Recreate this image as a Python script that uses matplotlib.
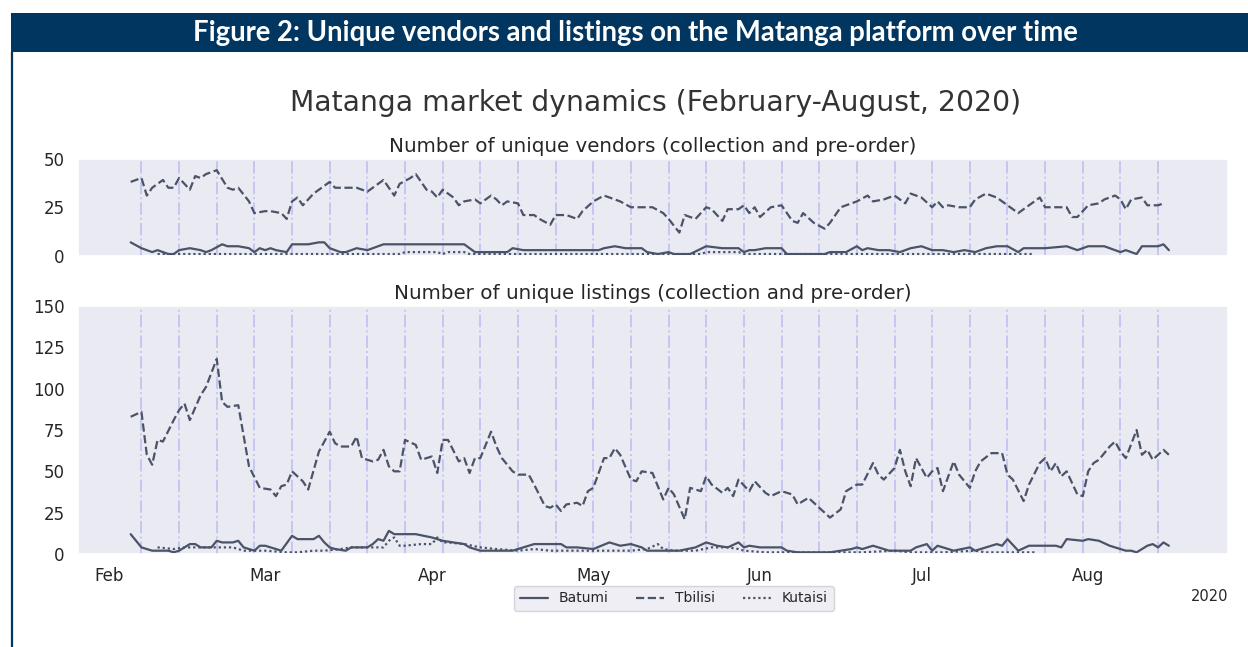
import pandas as pd
import matplotlib
matplotlib.use('Agg')
import matplotlib.pyplot as plt
import matplotlib.dates as mdates
from matplotlib.patches import Rectangle
from matplotlib.lines import Line2D
import seaborn as sns

# days are counted from 1 February 2020
START = pd.Timestamp('2020-02-01')

# --- unique vendors ---
vend_tbilisi_days = [4, 6, 7, 8, 10, 11, 12, 13, 15, 16, 17, 18, 20, 22, 23, 24, 26, 27, 29, 30, 32, 33, 34, 35, 36,
                     38, 39, 41, 42, 44, 45, 46, 48, 49, 51, 52, 53, 54, 56, 57, 59, 60, 61, 62, 64, 65, 66, 68, 69,
                     71, 72, 73, 74, 76, 77, 79, 80, 82, 83, 85, 87, 88, 90, 92, 94, 95, 97, 99, 101, 103, 104, 106,
                     107, 109, 111, 112, 114, 115, 117, 118, 119, 120, 121, 123, 125, 127, 128, 129, 131, 133, 134,
                     136, 138, 139, 141, 142, 144, 146, 148, 149, 151, 153, 154, 155, 156, 158, 160, 161, 163, 165,
                     167, 169, 171, 173, 174, 176, 178, 179, 180, 182, 184, 185, 187, 188, 189, 190, 192, 193, 195, 196]
vend_tbilisi = [38, 40, 31, 35, 39, 35, 35, 40, 34, 41, 40, 42, 44, 35, 34, 35, 28, 22, 23, 23, 22, 19, 28, 30, 26,
                32, 34, 38, 35, 35, 35, 35, 33, 35, 39, 35, 31, 37, 40, 42, 34, 33, 30, 34, 30, 26, 28, 29, 27,
                31, 29, 26, 28, 27, 21, 21, 19, 16, 21, 21, 19, 23, 28, 31, 29, 28, 25, 25, 25, 22, 19, 12,
                21, 19, 25, 24, 18, 24, 24, 26, 22, 25, 20, 25, 26, 18, 17, 22, 17, 14, 17,
                25, 27, 28, 31, 28, 29, 31, 27, 32, 30, 25, 28, 25, 26, 25, 25, 29, 32, 30,
                26, 22, 26, 30, 25, 25, 25, 20, 20, 26, 27, 29, 31, 29, 24, 29, 30, 26, 26, 27]

vend_batumi_days = [4, 6, 8, 9, 11, 12, 13, 15, 17, 18, 19, 21, 22, 24, 26, 27, 28, 29, 30, 31, 33, 34, 36, 37, 39,
                    40, 41, 43, 44, 46, 48, 51, 54, 55, 58, 59, 61, 62, 66, 67, 68, 74, 75, 77, 91, 92, 94, 96, 99,
                    100, 102, 104, 105, 108, 111, 114, 117, 118, 119, 120, 122, 125, 126, 133, 134, 137, 139, 140,
                    141, 143, 145, 147, 149, 151, 153, 155, 157, 159, 161, 163, 165, 167, 169, 170, 174, 178, 180,
                    182, 185, 186, 188, 189, 191, 192, 195, 196, 197]
vend_batumi = [7, 4, 2, 3, 1, 1, 3, 4, 3, 2, 3, 6, 5, 5, 4, 2, 4, 3, 4, 3, 2, 6, 6, 6, 7,
               7, 4, 2, 2, 4, 3, 6, 6, 6, 6, 6, 6, 6, 6, 4, 2, 2, 4, 3, 3, 4, 5, 4, 4,
               2, 1, 2, 1, 1, 5, 4, 4, 2, 3, 3, 4, 4, 1, 1, 2, 2, 5, 3,
               4, 3, 3, 2, 4, 5, 3, 3, 2, 3, 2, 4, 5, 5, 2, 4, 4, 5, 3,
               5, 5, 4, 2, 3, 1, 5, 5, 6, 3]

vend_kutaisi_days = [9, 54, 55, 61, 62, 63, 66, 67, 110, 111, 117, 118, 172]
vend_kutaisi = [1, 1, 2, 2, 1, 2, 2, 1, 1, 2, 2, 1, 1]

# --- unique listings ---
list_tbilisi_days = [4, 6, 7, 8, 9, 10, 12, 13, 14, 15, 17, 18, 20, 21, 22, 24, 26, 28, 30, 31, 32, 33, 34, 36, 37,
                     39, 41, 42, 43, 45, 46, 47, 49, 50, 51, 52, 53, 54, 55, 57, 58, 60, 61, 62, 63, 65, 66, 67, 68,
                     69, 71, 72, 73, 75, 76, 78, 79, 81, 82, 83, 84, 85, 87, 88, 89, 90, 92, 93, 94, 95, 97, 98, 99,
                     101, 103, 104, 105, 107, 108, 110, 111, 112, 114, 115, 116, 117, 119, 120, 122, 123, 125, 127,
                     128, 130, 132, 133, 134, 136, 137, 139, 140, 142, 143, 144, 146, 147, 148, 149, 150, 152, 153,
                     154, 155, 157, 158, 160, 161, 162, 164, 166, 167, 168, 170, 171, 173, 174, 175, 176, 177, 178,
                     180, 181, 182, 183, 184, 186, 187, 188, 189, 191, 192, 193, 194, 195, 196, 197]
list_tbilisi = [83, 86, 60, 54, 69, 68, 81, 87, 91, 81, 96, 101, 118, 92, 89, 90, 53, 40, 39, 35, 41, 42, 50, 44, 39,
                62, 74, 67, 65, 65, 71, 58, 56, 57, 63, 53, 50, 50, 69, 66, 57, 59, 49, 69, 69, 56, 58, 49, 58,
                58, 74, 65, 58, 50, 48, 48, 42, 29, 28, 30, 26, 30, 31, 29, 38, 40, 58, 58, 64, 60, 45, 44, 50,
                49, 33, 40, 36, 21, 40, 38, 47, 42, 37, 40, 35, 45, 38, 44, 37, 35, 38, 36,
                30, 34, 28, 25, 22, 27, 38, 42, 42, 55, 48, 45, 52, 63, 50, 41, 58, 46, 50,
                52, 38, 56, 48, 40, 50, 56, 61, 61, 48, 45, 32, 42, 55, 58, 50, 55, 47, 50,
                36, 35, 50, 55, 57, 65, 68, 62, 58, 75, 60, 63, 57, 60, 63, 60]

list_batumi_days = [4, 6, 8, 9, 11, 12, 13, 15, 16, 17, 19, 20, 21, 23, 24, 25, 27, 28, 29, 31, 32, 34, 35, 37, 38,
                    39, 40, 41, 42, 44, 45, 48, 49, 50, 51, 52, 53, 54, 56, 57, 60, 62, 64, 66, 67, 69, 72, 75, 76,
                    79, 84, 85, 87, 90, 93, 95, 97, 99, 100, 104, 106, 109, 111, 113, 115, 117, 118, 119, 121, 122,
                    124, 125, 126, 128, 134, 136, 138, 139, 140, 142, 143, 145, 149, 150, 152, 153, 154, 156, 157,
                    160, 161, 163, 165, 166, 167, 169, 171, 176, 177, 178, 181, 182, 184, 186, 188, 189, 190, 191,
                    193, 194, 195, 196, 197]
list_batumi = [12, 4, 2, 2, 2, 1, 2, 6, 6, 4, 4, 8, 7, 7, 8, 4, 2, 5, 5, 3, 2, 11, 9, 9, 9,
               11, 7, 4, 3, 2, 4, 4, 6, 9, 8, 14, 12, 12, 12, 12, 10, 8, 7, 6, 4, 2, 2, 2, 3,
               6, 6, 4, 4, 3, 7, 5, 6, 4, 2, 2, 2, 4, 7, 5, 4, 7, 4, 5, 4, 4,
               4, 4, 2, 1, 1, 2, 3, 4, 3, 5, 4, 2, 2, 4, 6, 2, 5, 3, 2,
               4, 2, 4, 6, 5, 9, 2, 5, 5, 4, 9, 8, 9, 8, 5, 3, 2, 2, 1,
               5, 6, 4, 7, 5]

list_kutaisi_days = [9, 12, 14, 17, 20, 23, 25, 27, 29, 33, 35, 38, 40, 43, 45, 48, 51, 52, 53, 54, 55, 58, 60, 61,
                     62, 63, 66, 69, 72, 76, 79, 82, 85, 91, 97, 100, 102, 103, 105, 109, 112, 115, 117, 118, 122,
                     128, 134, 140, 146, 149, 155, 161, 163, 167, 172]
list_kutaisi = [4, 3, 4, 4, 4, 4, 2, 2, 2, 1, 1, 2, 2, 3, 4, 4, 4, 8, 10, 5, 5, 6, 6, 10,
                7, 7, 6, 4, 3, 2, 3, 2, 2, 2, 2, 3, 6, 3, 2, 2, 4, 4, 3, 2, 1,
                1, 1, 1, 2, 1, 1, 2, 1, 1, 1]

cities = ['Batumi', 'Tbilisi', 'Kutaisi']
styles = ['-', '--', (0, (1, 1.3))]
vendors = [(vend_batumi_days, vend_batumi), (vend_tbilisi_days, vend_tbilisi), (vend_kutaisi_days, vend_kutaisi)]
listings = [(list_batumi_days, list_batumi), (list_tbilisi_days, list_tbilisi), (list_kutaisi_days, list_kutaisi)]


def to_dates(days):
    return START + pd.to_timedelta(days, unit='D')


sns.set_theme(style='dark')
plt.rcParams['font.family'] = ['DejaVu Sans']

navy = '#013661'
line_col = '#4a5368'
week_col = '#c6c6f3'

fig = plt.figure(figsize=(12.48, 6.47), dpi=100)
fig.patch.set_facecolor('white')

# report frame: header band and left border
fig.patches.append(Rectangle((11 / 1248, 1 - 52 / 647), 1, 38.5 / 647, transform=fig.transFigure,
                             facecolor=navy, edgecolor='none', zorder=0))
fig.lines.append(Line2D([12 / 1248, 12 / 1248], [0, 1 - 52 / 647], transform=fig.transFigure,
                        color=navy, lw=1.6))
fig.text(0.509, 1 - 33 / 647, 'Figure 2: Unique vendors and listings on the Matanga platform over time',
         ha='center', va='center', color='white', fontsize=19.8, fontweight='bold', family=['Lato', 'DejaVu Sans'])

fig.text(0.5256, 1 - 103 / 647, 'Matanga market dynamics (February-August, 2020)',
         ha='center', va='center', fontsize=20.3, color='.2')

ax1 = fig.add_axes([0.0625, 1 - 256 / 647, 0.9215, 97.5 / 647])
ax2 = fig.add_axes([0.0625, 1 - 554 / 647, 0.9215, 248 / 647], sharex=ax1)

fridays = pd.date_range('2020-02-07', '2020-08-14', freq='7D')
for ax, data, title, ymax, step in [(ax1, vendors, 'Number of unique vendors (collection and pre-order)', 50, 25),
                                     (ax2, listings, 'Number of unique listings (collection and pre-order)', 150, 25)]:
    for d in fridays:
        ax.axvline(d, color=week_col, ls='-.', lw=1.4, zorder=1)
    for (days, vals), city, ls in zip(data, cities, styles):
        ax.plot(to_dates(days), vals, ls=ls, color=line_col, lw=1.6, label=city, zorder=2)
    ax.set_ylim(0, ymax)
    ax.set_yticks(range(0, ymax + 1, step))
    ax.set_title(title, fontsize=14.3, color='.15', pad=5)
    ax.tick_params(labelsize=12, colors='.15')

ax1.set_xlim(pd.Timestamp('2020-01-26 05:00'), pd.Timestamp('2020-08-27'))
loc = mdates.MonthLocator()
ax2.xaxis.set_major_locator(loc)
ax2.xaxis.set_major_formatter(mdates.ConciseDateFormatter(loc))
ax1.tick_params(labelbottom=False)
ax1.xaxis.get_offset_text().set_visible(False)
ax2.xaxis.get_offset_text().set_fontsize(10.5)

handles, labels = ax2.get_legend_handles_labels()
fig.legend(handles, labels, loc='upper center', bbox_to_anchor=(0.54, 1 - 579 / 647), ncol=3,
           fontsize=10, frameon=True, handlelength=2.0, columnspacing=2.0)

fig.savefig('out.png', dpi=100)
